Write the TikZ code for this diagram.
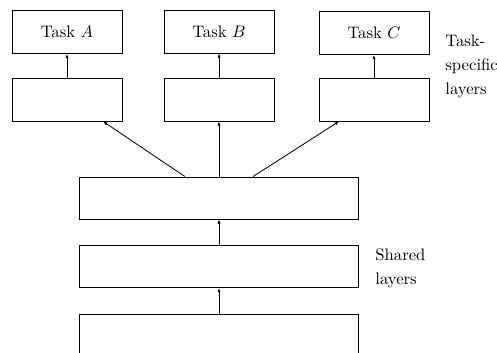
\documentclass[tikz,border=0pt]{standalone}
\usetikzlibrary{arrows.meta,calc}
\newcommand{\boxw}{66pt}
\tikzset{every path/.style={line width=.5pt},
  layer/.style={draw, minimum width=\boxw, minimum height=25.8pt, inner sep=0pt},
  shared/.style={draw, minimum width=167.4pt, minimum height=25.2pt, inner sep=0pt},
  up/.style={-{Latex[length=2.6pt,width=2pt]}},
  note/.style={anchor=west, align=left, inner sep=0pt, font=\fontsize{10}{14.4}\selectfont}}

\begin{document}
\begin{tikzpicture}[x=0.6pt,y=0.6pt]
\useasboundingbox (0,0) rectangle (497,353);

\node[layer] (taskA) at (67,321) {Task $A$};
\node[layer] (taskB) at (219,321.5) {Task $B$};
\node[layer] (taskC) at (374,320) {Task $C$};
\node[layer] (specA) at (67,253.5) {};
\node[layer] (specB) at (219,253.5) {};
\node[layer] (specC) at (374,253.5) {};
\node[shared] (shA) at (219,155) {};
\node[shared] (shB) at (219,86.5) {};
\node[shared] (shC) at (219,17.5) {};
\draw[up] (specA) -- (taskA);
\draw[up] (specB) -- (taskB);
\draw[up] (specC) -- (taskC);
\draw[up] ($(shA.north)+(-34,0)$) -- ($(specA.south)+(36,0)$);
\draw[up] (shA.north) -- (specB.south);
\draw[up] ($(shA.north)+(34,0)$) -- ($(specC.south)+(-35,0)$);
\draw[up] (shB) -- (shA);
\draw[up] (shC) -- (shB);
\node[note] (tasknote) at (445,287) {Task-\\specific\\layers};
\node[note] (sharednote) at (375,85) {Shared\\layers};
\end{tikzpicture}
\end{document}
